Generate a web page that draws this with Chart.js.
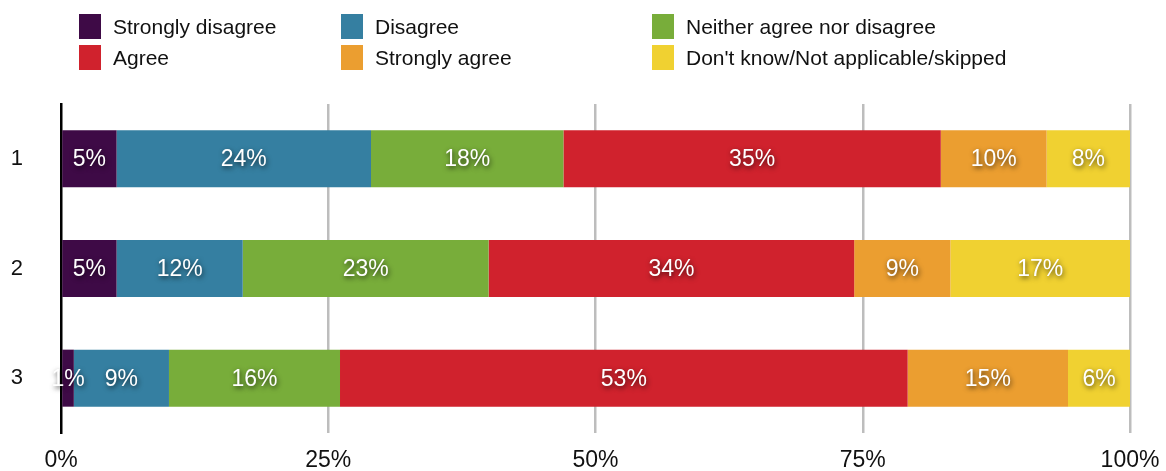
<!DOCTYPE html>
<html>
<head>
<meta charset="utf-8">
<script src="https://cdn.jsdelivr.net/npm/chart.js@4/dist/chart.umd.min.js"></script>
<style>
    html, body { margin: 0; padding: 0; background: #fff; }
    #wrap { position: relative; width: 1166px; height: 471px; }
    #legend { position: absolute; left: 0; top: 0; width: 1166px; height: 80px;
        font-family: "Liberation Sans", Arial, Helvetica, sans-serif; font-size: 21px; color: #111; }
    .item { position: absolute; height: 25px; line-height: 25px; white-space: nowrap; }
    .item span.box { position: absolute; left: 0; top: 0; width: 22px; height: 25px; }
    .item span.txt { position: absolute; left: 34px; top: 0; }
    canvas { position: absolute; left: 0; top: 0; }
</style>
</head>
<body>
<div id="wrap">
    <canvas id="chart" width="1166" height="471"></canvas>
    <div id="legend"></div>
</div>
<script>
// Data
const categories = ['1', '2', '3'];
const seriesNames = ['Strongly disagree', 'Disagree', 'Neither agree nor disagree',
    'Agree', 'Strongly agree', "Don't know/Not applicable/skipped"];
const stronglyDisagree = [5.2, 5.2, 1.2];
const disagree = [23.8, 11.8, 8.9];
const neither = [18.0, 23.0, 16.0];
const agree = [35.3, 34.2, 53.1];
const stronglyAgree = [9.9, 9.0, 15.0];
const dontKnow = [7.8, 16.8, 5.8];
const xTicks = [0, 25, 50, 75, 100];

const colors = ['#3e0a46', '#357fa1', '#78ad3a', '#d0222d', '#eb9e30', '#f0d131'];
const seriesValues = [stronglyDisagree, disagree, neither, agree, stronglyAgree, dontKnow];

// legend: 3 columns, 2 rows (row-major)
const legendCols = [79, 341, 652];
const legendRows = [14, 45];
const legendEl = document.getElementById('legend');
seriesNames.forEach((name, i) => {
    const item = document.createElement('div');
    item.className = 'item';
    item.style.left = legendCols[i % 3] + 'px';
    item.style.top = legendRows[Math.floor(i / 3)] + 'px';
    item.innerHTML = '<span class="box" style="background:' + colors[i] + '"></span><span class="txt"></span>';
    item.querySelector('.txt').textContent = name;
    legendEl.appendChild(item);
});

// white labels with soft shadow in the middle of each segment
const barLabels = {
    id: 'barLabels',
    afterDatasetsDraw(chart) {
        const ctx = chart.ctx;
        ctx.save();
        ctx.font = '23px "Liberation Sans", Arial, Helvetica, sans-serif';
        ctx.fillStyle = '#fff';
        ctx.textAlign = 'center';
        ctx.textBaseline = 'middle';
        ctx.shadowColor = 'rgba(0,0,0,0.7)';
        ctx.shadowBlur = 5;
        ctx.shadowOffsetX = 1;
        ctx.shadowOffsetY = 2;
        chart.data.datasets.forEach((ds, di) => {
            const meta = chart.getDatasetMeta(di);
            meta.data.forEach((bar, i) => {
                const p = bar.getProps(['x', 'y', 'base'], true);
                ctx.fillText(Math.round(ds.data[i]) + '%', (p.x + p.base) / 2, p.y + 1);
            });
        });
        ctx.restore();
    }
};

new Chart(document.getElementById('chart'), {
    type: 'bar',
    data: {
        labels: categories,
        datasets: seriesNames.map((name, i) => ({
            label: name,
            data: seriesValues[i],
            backgroundColor: colors[i],
            borderWidth: 0,
            categoryPercentage: 1,
            barPercentage: 0.52
        }))
    },
    options: {
        indexAxis: 'y',
        responsive: false,
        animation: false,
        events: [],
        layout: { padding: { top: 104, right: 36, left: 0, bottom: 0 } },
        plugins: {
            legend: { display: false },
            tooltip: { enabled: false }
        },
        scales: {
            x: {
                stacked: true,
                min: 0,
                max: 100,
                afterBuildTicks: scale => { scale.ticks = xTicks.map(v => ({ value: v })); },
                afterFit: scale => {
                    scale.height = 38;
                    scale.paddingLeft = 0;
                    scale.paddingRight = 0;
                },
                ticks: {
                    padding: 14,
                    color: '#111',
                    font: { family: '"Liberation Sans", Arial, Helvetica, sans-serif', size: 23 },
                    callback: v => v + '%'
                },
                grid: {
                    drawTicks: false,
                    lineWidth: 2.5,
                    color: c => c.tick && c.tick.value === 0 ? 'rgba(0,0,0,0)' : '#bdbdbd'
                },
                border: { display: false }
            },
            y: {
                stacked: true,
                afterFit: scale => {
                    scale.width = 61;
                    scale.paddingTop = 0;
                    scale.paddingBottom = 0;
                },
                ticks: {
                    padding: 38,
                    color: '#111',
                    font: { family: '"Liberation Sans", Arial, Helvetica, sans-serif', size: 22 }
                },
                grid: { display: false, drawTicks: false },
                border: { display: true, color: '#000', width: 2.5 }
            }
        }
    },
    plugins: [barLabels]
});
</script>
</body>
</html>
